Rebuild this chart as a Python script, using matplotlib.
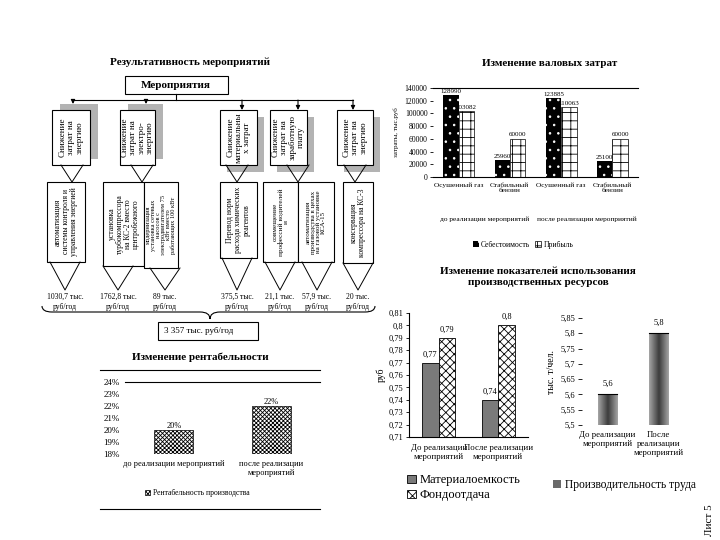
import matplotlib
matplotlib.use("Agg")
import matplotlib.pyplot as plt
from matplotlib.patches import Rectangle, PathPatch, Patch
from matplotlib.path import Path
from matplotlib.colors import LinearSegmentedColormap
import matplotlib.transforms as mtransforms
import numpy as np

plt.rcParams['font.family'] = ['Liberation Serif', 'DejaVu Serif']
plt.rcParams['hatch.linewidth'] = 0.6

# ---------------- data ----------------
diagram_title = "Результативность мероприятий"
root_label = "Мероприятия"
directions = ["Снижение\nзатрат на\nэнергию",
              "Снижение\nзатрат на\nэлектро-\nэнергию",
              "Снижение\nматериальны\nх затрат",
              "Снижение\nзатрат на\nзаработную\nплату",
              "Снижение\nзатрат на\nэнергию"]
measures = ["автоматизация\nсистемы контроля и\nуправления энергией",
            "установка\nтурбокомпрессора\nна КС-2 вместо\nцентробежного",
            "модернизация\nустановка сетевых\nнасосов с\nэлектродвигателем 75\nкВт вместо\nработающих 100 кВт",
            "Перевод норм\nрасхода химических\nреагентов",
            "совмещение\nпрофессий водителей\nи",
            "автоматизация\nпроизводства в цехах\nна газовой установке\nКСА-15",
            "консервация\nкомпрессора на КС-3"]
savings = [1030.7, 1762.8, 89, 375.5, 21.1, 57.9, 20]
savings_unit = "тыс.\nруб/год"
total_savings = "3 357"

gross_categories = ["Осушенный газ", "Стабильный\nбензин", "Осушенный газ", "Стабильный\nбензин"]
gross_groups = ["до реализации мероприятий", "после реализации мероприятий"]
gross_cost = [128990, 25960, 123885, 25100]
gross_profit = [103082, 60000, 110063, 60000]

rent_categories = ["до реализации мероприятий", "после реализации\nмероприятий"]
rent_values = [0.20, 0.22]

res_categories = ["До реализации\nмероприятий", "После реализации\nмероприятий"]
material_intensity = [0.77, 0.74]
capital_productivity = [0.79, 0.80]
prod_categories = ["До реализации\nмероприятий", "После\nреализации\nмероприятий"]
labour_productivity = [5.6, 5.8]

# ---------------- figure ----------------
W, H = 720, 540
fig = plt.figure(figsize=(7.2, 5.4), dpi=100)
fig.patch.set_facecolor('white')


def ax_px(x0, y0, x1, y1):
    return fig.add_axes([x0 / W, 1 - y1 / H, (x1 - x0) / W, (y1 - y0) / H])


ov = fig.add_axes([0, 0, 1, 1])
ov.set_xlim(0, W)
ov.set_ylim(H, 0)
ov.axis('off')

# ---- diagram ----
ov.text(190, 62, diagram_title, ha='center', va='center', fontsize=8, fontweight='bold')
ov.add_patch(Rectangle((125, 76), 103, 18, fc='white', ec='black', lw=0.8))
ov.text(176, 85, root_label, ha='center', va='center', fontsize=8, fontweight='bold')
ov.plot([176, 176], [94, 100], color='black', lw=0.8)
ov.plot([73, 353], [100, 100], color='black', lw=0.8)

top_boxes = [(52, 90), (120, 155), (220, 257), (270, 307), (337, 373)]
shadow_off = [(8, -6), (8, -6), (7, 7), (7, 7), (7, 7)]
arrow_x = [73, 146, 242, 298, 353]
v_apex = [72, 142, 237, 298, 355]
for (x0, x1), (dx, dy), ax_, txt, va in zip(top_boxes, shadow_off, arrow_x, directions, v_apex):
    ov.add_patch(Rectangle((x0 + dx, 110 + dy), x1 - x0, 55, fc='#b3b3b3', ec='none'))
    ov.add_patch(Rectangle((x0, 110), x1 - x0, 55, fc='white', ec='black', lw=0.8))
    ov.text((x0 + x1) / 2, 137.5, txt, rotation=90, ha='center', va='center',
            fontsize=6.5, linespacing=1.05)
    ov.annotate('', xy=(ax_, 110 + min(dy, 0)), xytext=(ax_, 100),
                arrowprops=dict(arrowstyle='-|>', lw=0.8, color='black', mutation_scale=6,
                                shrinkA=0, shrinkB=0))
    ov.plot([va - 11, va, va + 11], [165, 182, 165], color='black', lw=0.7)

low_boxes = [(47, 85, 262), (103, 144, 266), (144, 178, 268), (220, 257, 258),
             (263, 298, 262), (298, 334, 262), (343, 373, 263)]
low_fs = [5.5, 5.5, 4.6, 5.5, 5.2, 5.0, 5.5]
val_x = [65, 118, 165, 237, 280, 317, 358]
for (x0, x1, yb), txt, fs, vx, val in zip(low_boxes, measures, low_fs, val_x, savings):
    ov.add_patch(Rectangle((x0, 182), x1 - x0, yb - 182, fc='white', ec='black', lw=0.8))
    ov.text((x0 + x1) / 2, (182 + yb) / 2, txt, rotation=90, ha='center', va='center',
            fontsize=fs, linespacing=1.0)
    ov.plot([vx - 15, vx, vx + 15], [yb, 290, yb], color='black', lw=0.7)
    vs = f"{val:g}".replace('.', ',')
    ov.text(vx, 302, f"{vs} {savings_unit}", ha='center', va='center', fontsize=5.5,
            linespacing=1.3)

M, C3, L = Path.MOVETO, Path.CURVE3, Path.LINETO
brace = Path([(42, 306), (42, 312), (52, 312), (200, 312), (210, 312), (210, 319),
              (210, 312), (220, 312), (365, 312), (375, 312), (375, 306)],
             [M, C3, C3, L, C3, C3, C3, C3, L, C3, C3])
ov.add_patch(PathPatch(brace, fc='none', ec='black', lw=0.8))
ov.add_patch(Rectangle((158, 322), 100, 18, fc='white', ec='black', lw=0.8))
ov.text(164, 331, f"{total_savings} тыс. руб/год", ha='left', va='center', fontsize=6.5)

# rentability frame and title
ov.text(200, 357, "Изменение рентабельности", ha='center', va='center', fontsize=8, fontweight='bold')
ov.plot([100, 320], [370, 370], color='black', lw=0.8)
ov.plot([100, 320], [509, 509], color='black', lw=0.8)

ov.text(550, 63, "Изменение валовых затрат", ha='center', va='center', fontsize=8, fontweight='bold')
ov.text(538, 277, "Изменение показателей использования\nпроизводственных ресурсов",
        ha='center', va='center', fontsize=8, fontweight='bold', linespacing=1.2)
ov.text(710, 520, "Лист 5", rotation=90, ha='center', va='center', fontsize=8)

# ---------------- gross costs chart ----------------
ag = ax_px(433, 88, 638, 177)
xg = np.arange(len(gross_categories))
bw = 0.3
b1 = ag.bar(xg - bw / 2, gross_cost, bw, color='black', edgecolor='white', hatch='..', lw=0,
            label='Себестоимость')
b2 = ag.bar(xg + bw / 2, gross_profit, bw, color='white', edgecolor='black', hatch='++', lw=0.5,
            label='Прибыль')
ag.bar_label(b1, labels=[str(v) for v in gross_cost], fontsize=5, padding=1)
ag.bar_label(b2, labels=[str(v) for v in gross_profit], fontsize=5, padding=1)
ag.set_xlim(-0.5, len(gross_categories) - 0.5)
ag.set_ylim(0, 140000)
ag.set_yticks(range(0, 140001, 20000))
ag.set_yticklabels([str(v) for v in range(0, 140001, 20000)], fontsize=5.5)
ag.set_xticks(xg)
ag.set_xticklabels(gross_categories, fontsize=5.3)
ag.tick_params(axis='x', length=0, pad=4)
ag.tick_params(axis='y', length=2, width=0.6, pad=2)
for s in ['left', 'right']:
    ag.spines[s].set_visible(False)
for s in ['top', 'bottom']:
    ag.spines[s].set_linewidth(0.8)
ag.set_ylabel("затраты, тыс.руб", fontsize=5, labelpad=4)
trg = mtransforms.blended_transform_factory(ag.transData, ag.transAxes)
for i, g in enumerate(gross_groups):
    ag.text(2 * i + 0.5, -0.47, g, transform=trg, ha='center', va='center', fontsize=5.3)
fig.legend(handles=[b1, b2], loc='center', bbox_to_anchor=(523 / W, 1 - 245 / H), ncol=2,
           fontsize=5.5, frameon=False, handlelength=0.8, handleheight=0.8, columnspacing=0.6,
           handletextpad=0.3)

# ---------------- rentability chart ----------------
ar = ax_px(125, 382, 320, 454)
xr = np.arange(len(rent_categories))
br = ar.bar(xr, rent_values, 0.4, color='white', edgecolor='black', hatch='xxxxxxxx', lw=0.5,
            label='Рентабельность производства')
ar.bar_label(br, labels=[f"{round(v * 100)}%" for v in rent_values], fontsize=6, padding=0)
ar.set_xlim(-0.5, 1.5)
ar.set_ylim(0.18, 0.24)
rt = np.round(np.arange(0.18, 0.2401, 0.01), 2)
ar.set_yticks(rt)
ar.set_yticklabels([f"{round(v * 100)}%" for v in rt], fontsize=6.5)
ar.set_xticks(xr)
ar.set_xticklabels(rent_categories, fontsize=6, va='top')
ar.tick_params(length=0, pad=4)
for s in ['left', 'right', 'bottom']:
    ar.spines[s].set_visible(False)
ar.spines['top'].set_linewidth(0.8)
fig.legend(handles=[br], loc='center', bbox_to_anchor=(197 / W, 1 - 493 / H), fontsize=5.5,
           frameon=False, handlelength=0.7, handleheight=0.7, handletextpad=0.3)

# ---------------- resources: left ----------------
al = ax_px(409, 313, 528, 437)
xl = np.arange(len(res_categories))
w2 = 0.28
bm = al.bar(xl - w2 / 2, material_intensity, w2, color='#7a7a7a', edgecolor='black', lw=0.6,
            label='Материалоемкость')
bf = al.bar(xl + w2 / 2, capital_productivity, w2, color='white', edgecolor='black', hatch='xxxx',
            lw=0.6, label='Фондоотдача')
fmt = lambda v: f"{v:g}".replace('.', ',')
al.bar_label(bm, labels=[fmt(v) for v in material_intensity], fontsize=6, padding=3)
al.bar_label(bf, labels=[fmt(v) for v in capital_productivity], fontsize=6, padding=3)
al.set_xlim(-0.5, 1.5)
al.set_ylim(0.71, 0.81)
lt = np.round(np.arange(0.71, 0.8101, 0.01), 2)
al.set_yticks(lt)
al.set_yticklabels([fmt(v) for v in lt], fontsize=6)
al.set_xticks(xl)
al.set_xticklabels(res_categories, fontsize=6.3)
al.tick_params(axis='x', length=0, pad=5)
al.tick_params(axis='y', length=2, width=0.6, pad=2)
for s in ['top', 'right']:
    al.spines[s].set_visible(False)
for s in ['left', 'bottom']:
    al.spines[s].set_linewidth(0.8)
al.set_ylabel("руб", fontsize=7, labelpad=2)
fig.legend(handles=[bm, bf], loc='upper left', bbox_to_anchor=(396 / W, 1 - 463 / H), fontsize=9,
           frameon=False, handlelength=0.7, handleheight=0.7, handletextpad=0.3, labelspacing=0.25)

# ---------------- resources: right ----------------
ap = ax_px(582, 318, 684, 425)
xp = np.arange(len(prod_categories))
bp = ap.bar(xp, labour_productivity, 0.39, color='#6a6a6a', edgecolor='black', lw=0.6,
            label='Производительность труда')
cmap = LinearSegmentedColormap.from_list('cyl', ['#3c3c3c', '#a5a5a5'])
ap.set_xlim(-0.5, 1.5)
ap.set_ylim(5.5, 5.85)
for p in bp:
    x0, wb, top = p.get_x(), p.get_width(), p.get_height()
    grad = np.abs(np.linspace(-1, 1, 64))[None, :]
    im = ap.imshow(grad, cmap=cmap, vmin=0, vmax=1, extent=(x0, x0 + wb, 5.5, top),
                   aspect='auto', zorder=p.get_zorder() + 0.1)
    im.set_clip_path(p)
    ap.plot([x0, x0 + wb], [top, top], color='black', lw=0.8, zorder=3)
ap.set_xlim(-0.5, 1.5)
ap.set_ylim(5.5, 5.85)
ap.bar_label(bp, labels=[fmt(v) for v in labour_productivity], fontsize=6, padding=5)
pt = np.round(np.arange(5.5, 5.8501, 0.05), 2)
ap.set_yticks(pt)
ap.set_yticklabels([fmt(v) for v in pt], fontsize=6)
ap.set_xticks(xp)
ap.set_xticklabels(prod_categories, fontsize=6.3)
ap.tick_params(axis='x', length=0, pad=4)
ap.tick_params(axis='y', length=3, width=0.6, pad=2)
for s in ap.spines.values():
    s.set_visible(False)
ap.set_ylabel("тыс. т/чел.", fontsize=7, labelpad=3)
fig.legend(handles=[Patch(facecolor='#6a6a6a', edgecolor='none')], labels=['Производительность труда'],
           loc='center left', bbox_to_anchor=(543 / W, 1 - 485 / H), fontsize=8.3, frameon=False,
           handlelength=0.7, handleheight=0.7, handletextpad=0.3)

fig.savefig('out.png', dpi=100, facecolor='white')
